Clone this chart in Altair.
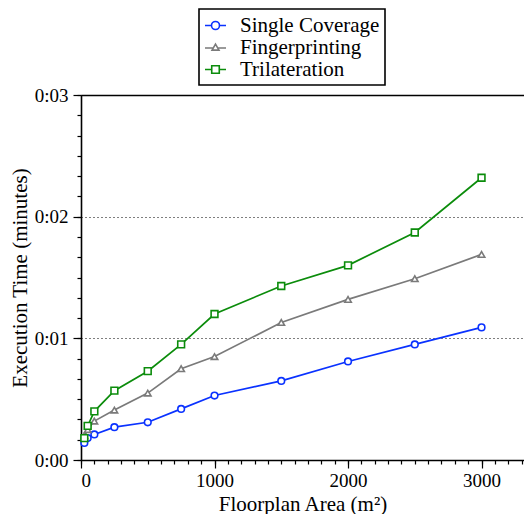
import altair as alt
import pandas as pd

# ---- data ----
area = [25, 50, 100, 250, 500, 750, 1000, 1500, 2000, 2500, 3000]
single_coverage = [0.14, 0.18, 0.21, 0.27, 0.31, 0.42, 0.53, 0.65, 0.81, 0.95, 1.09]
fingerprinting = [0.20, 0.25, 0.32, 0.41, 0.55, 0.75, 0.85, 1.13, 1.32, 1.49, 1.69]
trilateration = [0.18, 0.28, 0.40, 0.57, 0.73, 0.95, 1.20, 1.43, 1.60, 1.87, 2.32]

series_names = ["Single Coverage", "Fingerprinting", "Trilateration"]
series_colors = ["#0a32ff", "#7a7a7a", "#0b8c0b"]
point_shapes = ["circle", "triangle-up", "square"]
point_sizes = [44, 42, 46]
# legend symbols: a short line with the marker in the middle
legend_paths = [
    "M-1,0L-0.38,0M0.38,0L1,0M-0.38,0A0.38,0.38,0,1,1,0.38,0A0.38,0.38,0,1,1,-0.38,0Z",
    "M-1,0.05L-0.22,0.05M0.22,0.05L1,0.05M0,-0.33L0.33,0.25L-0.33,0.25Z",
    "M-1,0L-0.36,0M0.36,0L1,0M-0.36,-0.36L0.36,-0.36L0.36,0.36L-0.36,0.36Z",
]

x_major = [0, 1000, 2000, 3000]
x_minor = list(range(0, 3301, 100))
y_major = [0, 1, 2, 3]
y_minor = [k / 6 for k in range(19)]

rows = []
for name, vals in zip(series_names, [single_coverage, fingerprinting, trilateration]):
    for a, v in zip(area, vals):
        rows.append({"area": a, "time": v, "series": name})
df = pd.DataFrame(rows)

FONT = "Liberation Serif"
xscale = alt.Scale(domain=[0, 3318], nice=False, zero=False)
yscale = alt.Scale(domain=[0, 3], nice=False)
cscale = alt.Scale(domain=series_names, range=series_colors)

base = alt.Chart(df)

minor_x_axis = alt.Axis(orient="bottom", values=x_minor, tickSize=4, tickWidth=1.2,
                        labels=False, domain=False, grid=False, title=None)
minor_y_axis = alt.Axis(orient="left", values=y_minor, tickSize=4, tickWidth=1.2,
                        labels=False, domain=False, grid=False, title=None)

lines = base.mark_line(strokeWidth=1.7).encode(
    x=alt.X("area:Q", scale=xscale, axis=minor_x_axis),
    y=alt.Y("time:Q", scale=yscale, axis=minor_y_axis),
    stroke=alt.Stroke("series:N", scale=cscale, legend=None),
)

major_x_axis = alt.Axis(orient="bottom", values=x_major, format="d", tickSize=8, tickWidth=1.2,
                        domain=True, domainWidth=1.6, grid=False,
                        labelFontSize=19, labelPadding=3,
                        title="Floorplan Area (m²)", titleFontSize=21, titlePadding=3)
major_y_axis = alt.Axis(orient="left", values=y_major, labelExpr="'0:0' + datum.value",
                        tickSize=8, tickWidth=1.2, domain=True, domainWidth=1.6,
                        grid=True, gridDash=[1, 3], gridColor="black", gridWidth=1.2, gridOpacity=1,
                        labelFontSize=19, labelPadding=5,
                        title="Execution Time (minutes)", titleFontSize=21, titlePadding=4)

point_layers = []
for i, (name, shp, sz) in enumerate(zip(series_names, point_shapes, point_sizes)):
    layer = base.transform_filter(alt.datum.series == name).mark_point(
        shape=shp, size=sz, filled=True, fill="white", strokeWidth=1.6, opacity=1
    ).encode(
        x=alt.X("area:Q", scale=xscale, axis=major_x_axis if i == 0 else None),
        y=alt.Y("time:Q", scale=yscale, axis=major_y_axis if i == 0 else None),
        stroke=alt.Stroke("series:N", scale=cscale, legend=None),
    )
    point_layers.append(layer)

top_axis = alt.Axis(orient="top", domain=True, domainWidth=1.6, ticks=False, labels=False,
                    grid=False, title=None)

legend_def = alt.Legend(title=None, orient="none", legendX=118, legendY=-86,
                        direction="vertical", strokeColor="black", fillColor="white",
                        padding=5, cornerRadius=0, labelFont=FONT, labelFontSize=21,
                        labelColor="black", labelOffset=13, rowPadding=0,
                        symbolSize=441, symbolStrokeWidth=1.6, symbolFillColor="white",
                        symbolOpacity=1)

# invisible layer that only carries the legend and the top frame line
legend_layer = base.mark_point(
    filled=True, fill="white", strokeWidth=1.6, size=441, opacity=0
).encode(
    x=alt.X("area:Q", scale=xscale, axis=top_axis),
    y=alt.Y("time:Q", scale=yscale, axis=None),
    stroke=alt.Stroke("series:N", scale=cscale, legend=legend_def),
    shape=alt.Shape("series:N", scale=alt.Scale(domain=series_names, range=legend_paths),
                    legend=legend_def),
)

chart = alt.layer(lines, *point_layers, legend_layer).resolve_axis(
    x="independent", y="independent"
).resolve_legend(
    stroke="independent", shape="independent"
).properties(
    width=443, height=365,
    padding={"left": 73, "top": 87, "right": 0, "bottom": 54},
    autosize=alt.AutoSizeParams(type="none"),
).configure(font=FONT).configure_view(stroke=None).configure_axis(
    labelFont=FONT, titleFont=FONT, labelColor="black", titleColor="black",
    tickColor="black", domainColor="black", titleFontWeight="normal",
).configure_legend(strokeWidth=1.6, labelFont=FONT, labelFontSize=21, labelColor="black")

chart.save("out.html", embed_options={"renderer": "svg", "actions": False})
